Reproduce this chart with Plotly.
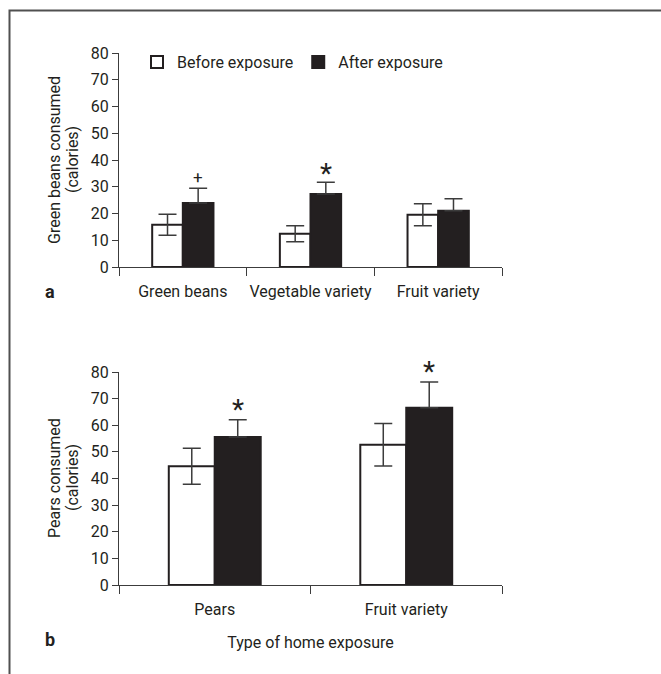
import plotly.graph_objects as go

# ---- data ----
cats_a = ["Green beans", "Vegetable variety", "Fruit variety"]
before_a = [15.8, 12.4, 19.5]
before_a_err = [3.9, 3.0, 4.1]
after_a = [23.9, 27.3, 21.0]
after_a_err = [5.5, 4.4, 4.5]
sig_a = ["+", "*", ""]

cats_b = ["Pears", "Fruit variety"]
before_b = [44.6, 52.7]
before_b_err = [6.8, 8.0]
after_b = [55.6, 66.6]
after_b_err = [6.5, 9.6]
sig_b = ["*", "*"]

y_ticks = [0, 10, 20, 30, 40, 50, 60, 70, 80]
ytitle_a = ["Green beans consumed", "(calories)"]
ytitle_b = ["Pears consumed", "(calories)"]

# ---- layout geometry (pixels) ----
W, H = 661, 674
L, R, T, B = 119, 159, 53, 89
PW, PH = W - L - R, H - T - B


def px2x(px):
    return (px - L) / PW


def px2y(py):
    return (H - B - py) / PH


FONT = "Roboto"
TXT = "#231f20"
ERR = "#3c3c3c"
BLK = "#231f20"

fig = go.Figure()


def add_panel(cats, bef, bef_e, aft, aft_e, xa, ya, legend):
    fig.add_trace(go.Bar(
        x=cats, y=bef, name="Before exposure", xaxis=xa, yaxis=ya,
        marker=dict(color="white", line=dict(color=BLK, width=2)),
        error_y=dict(type="data", array=bef_e, color=ERR, thickness=1.5, width=9),
        showlegend=legend, legendgroup="before"))
    fig.add_trace(go.Bar(
        x=cats, y=aft, name="After exposure", xaxis=xa, yaxis=ya,
        marker=dict(color=BLK, line=dict(color=BLK, width=2)),
        error_y=dict(type="data", symmetric=False, array=aft_e,
                     arrayminus=[0] * len(aft_e), color=ERR, thickness=1.5, width=9),
        showlegend=legend, legendgroup="after"))


add_panel(cats_a, before_a, before_a_err, after_a, after_a_err, "x", "y", True)
add_panel(cats_b, before_b, before_b_err, after_b, after_b_err, "x2", "y2", False)

annotations = []
for i, s in enumerate(sig_a):
    if s:
        annotations.append(dict(
            x=i + 0.12, y=after_a[i] + after_a_err[i], xref="x", yref="y",
            text=s, showarrow=False, yanchor="bottom",
            font=dict(family=FONT, size=17 if s == "+" else 28, color=TXT),
            yshift=-1 if s == "+" else -10))
for i, s in enumerate(sig_b):
    if s:
        annotations.append(dict(
            x=i + 0.12, y=after_b[i] + after_b_err[i], xref="x2", yref="y2",
            text=s, showarrow=False, yanchor="bottom",
            font=dict(family=FONT, size=28, color=TXT), yshift=-8))

# y-axis titles (two lines each, placed explicitly)
for lines, cy in ((ytitle_a, 160), (ytitle_b, 478)):
    for txt, cx in zip(lines, (54, 72)):
        annotations.append(dict(
            x=px2x(cx), y=px2y(cy), xref="paper", yref="paper", text=txt,
            textangle=-90, showarrow=False, xanchor="center", yanchor="middle",
            font=dict(family=FONT, size=16, color=TXT)))

annotations.append(dict(x=px2x(50), y=px2y(291), xref="paper", yref="paper",
                        text="<b>a</b>", showarrow=False, xanchor="center", yanchor="middle",
                        font=dict(family=FONT, size=18, color=TXT)))
annotations.append(dict(x=px2x(50), y=px2y(639), xref="paper", yref="paper",
                        text="<b>b</b>", showarrow=False, xanchor="center", yanchor="middle",
                        font=dict(family=FONT, size=18, color=TXT)))

# outer frame (left and top edges visible in the reference)
shapes = [
    dict(type="rect", xref="paper", yref="paper", layer="above",
         x0=px2x(9.5), x1=px2x(W + 20), y0=px2y(H + 20), y1=px2y(10.5),
         line=dict(color="#505050", width=2), fillcolor="rgba(0,0,0,0)"),
]

axis_common = dict(showgrid=False, zeroline=False, showline=True,
                   linecolor="#3c3c3c", linewidth=1.2,
                   tickfont=dict(family=FONT, size=16, color=TXT),
                   tickcolor="#3c3c3c", ticks="outside")

fig.update_layout(
    width=W, height=H,
    margin=dict(l=L, r=R, t=T, b=B, autoexpand=False),
    paper_bgcolor="white", plot_bgcolor="white",
    barmode="group", bargap=0.52, bargroupgap=0,
    font=dict(family=FONT, size=16, color=TXT),
    showlegend=True,
    legend=dict(orientation="h", x=px2x(137), y=px2y(62), xanchor="left", yanchor="middle",
                font=dict(family=FONT, size=16, color=TXT), bgcolor="rgba(0,0,0,0)",
                itemwidth=30, traceorder="normal"),
    xaxis=dict(domain=[0, 1], anchor="y", type="category", tickson="boundaries",
               ticklen=8, tickangle=0, ticklabelstandoff=10, **axis_common),
    yaxis=dict(domain=[px2y(267), px2y(53)], anchor="x", range=[0, 80],
               tickvals=y_ticks, ticklen=6, **axis_common),
    xaxis2=dict(domain=[0, 1], anchor="y2", type="category", tickson="boundaries",
                ticklen=8, tickangle=0, ticklabelstandoff=10,
                title=dict(text="Type of home exposure", standoff=18,
                           font=dict(family=FONT, size=16, color=TXT)),
                **axis_common),
    yaxis2=dict(domain=[0, px2y(372)], anchor="x2", range=[0, 80],
                tickvals=y_ticks, ticklen=6, **axis_common),
    annotations=annotations,
    shapes=shapes,
)

fig.write_html("out.html",
               config={"displayModeBar": False},
               post_script="document.body.style.margin='0';")
